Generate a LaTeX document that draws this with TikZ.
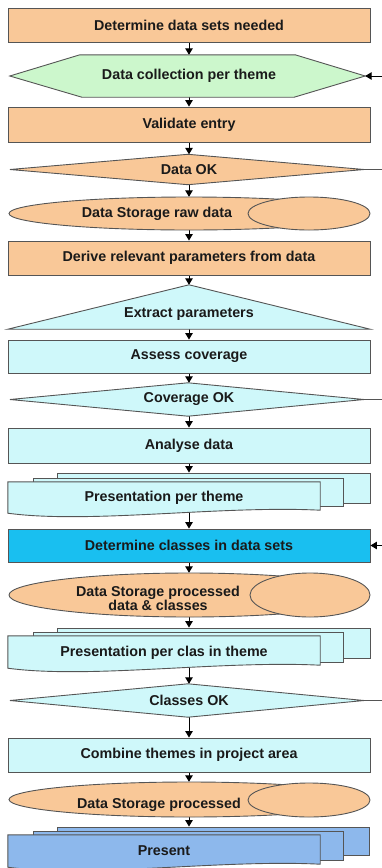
\documentclass[tikz,border=0pt]{standalone}
\usepackage{fontspec}
\setmainfont{Liberation Sans}
\usetikzlibrary{shapes.geometric,arrows.meta,backgrounds}
\definecolor{orangeF}{HTML}{F9C898}
\definecolor{greenF}{HTML}{CCF7CC}
\definecolor{cyanL}{HTML}{CFF8FA}
\definecolor{cyanB}{HTML}{19BFF0}
\definecolor{blueP}{HTML}{8DB8EC}
\definecolor{edgec}{HTML}{555555}
\definecolor{txtc}{HTML}{1A1A1A}
\tikzset{
  shapeline/.style={draw=edgec, line width=0.9pt},
  lbl/.style={font=\bfseries\fontsize{14.3}{14.5}\selectfont, text=txtc, align=center, inner sep=0pt},
  box/.style={shapeline, rectangle, minimum width=362pt, inner sep=0pt, lbl},
  frame/.style={rectangle, draw=none, inner sep=0pt},
  arr/.style={line width=1pt, black, -{Triangle[width=7.5pt,length=6.5pt]}},
  plain/.style={line width=1pt, edgec}
}
\newcommand\mydoc[2]{%
  \draw[shapeline, fill=#2] (#1.north west) -- (#1.north east) -- (#1.south east)
    .. controls ([xshift=-100pt,yshift=5pt]#1.south east) and ([xshift=82pt,yshift=-14pt]#1.south west)
    .. ([yshift=-3pt]#1.south west) -- cycle;}
\begin{document}
\begin{tikzpicture}[x=1pt,y=-1pt]
\useasboundingbox (0,0) rectangle (382,868);

% 1
\node[box, fill=orangeF, minimum height=34pt] (r1) at (189,25) {Determine data sets needed};
% hexagon
\node[frame, minimum width=355pt, minimum height=42pt] (hex) at (187.5,76) {};
\draw[shapeline, fill=greenF] (hex.west) -- ([xshift=70pt]hex.north west) -- ([xshift=-70pt]hex.north east)
  -- (hex.east) -- ([xshift=-71pt]hex.south east) -- ([xshift=72pt]hex.south west) -- cycle;
\node[lbl] (hext) at (189,76) {Data collection per theme};
% validate
\node[box, fill=orangeF, minimum height=35pt] (r2) at (189,124.5) {Validate entry};
% diamond Data OK
\node[frame, minimum width=354pt, minimum height=30pt] (d1) at (187,169.5) {};
\draw[shapeline, fill=orangeF] (d1.west) -- ([xshift=1pt]d1.north) -- (d1.east) -- ([xshift=1pt]d1.south) -- cycle;
\node[lbl] (d1t) at (189,169.5) {Data OK};
% storage raw
\node[frame, minimum width=362pt, minimum height=33pt] (e1) at (189,213.5) {};
\draw[shapeline, fill=orangeF] (e1.center) ellipse [x radius=180pt, y radius=16.5pt];
\coordinate (e1i) at (309,213.5);
\draw[shapeline, fill=orangeF] (e1i) ellipse [x radius=61pt, y radius=16.5pt];
\node[lbl] (e1t) at (157,214) {Data Storage raw data};
% derive
\node[box, fill=orangeF, minimum height=34pt] (r3) at (189,258) {Derive relevant parameters from data};
% triangle
\node[frame, minimum width=362pt, minimum height=44pt] (tri) at (189,307) {};
\draw[shapeline, fill=cyanL] (tri.north) -- (tri.south east) -- (tri.south west) -- cycle;
\node[lbl] (trit) at (189,314) {Extract parameters};
% assess
\node[box, fill=cyanL, minimum height=33pt] (r4) at (189,356.5) {Assess coverage};
% diamond coverage
\node[frame, minimum width=354pt, minimum height=33pt] (d2) at (187,399.5) {};
\draw[shapeline, fill=cyanL] (d2.west) -- ([xshift=1pt]d2.north) -- (d2.east) -- ([xshift=1pt]d2.south) -- cycle;
\node[lbl] (d2t) at (189,399.5) {Coverage OK};
% analyse
\node[box, fill=cyanL, minimum height=35pt] (r5) at (189,445.5) {Analyse data};
% multidoc 1
\node[shapeline, fill=cyanL, rectangle, inner sep=0pt, minimum width=313pt, minimum height=30pt] (p1b) at (213.5,488) {};
\node[shapeline, fill=cyanL, rectangle, inner sep=0pt, minimum width=310pt, minimum height=28pt] (p1m) at (188,492) {};
\node[frame, minimum width=312pt, minimum height=28pt] (p1f) at (164,496) {};
\mydoc{p1f}{cyanL}
\node[lbl] (p1t) at (164,498) {Presentation per theme};
% determine classes
\node[box, fill=cyanB, minimum height=33pt] (r6) at (189,545.5) {Determine classes in data sets};
% storage processed
\node[frame, minimum width=362pt, minimum height=44pt] (e2) at (189,595) {};
\draw[shapeline, fill=orangeF] (e2.center) ellipse [x radius=180pt, y radius=22pt];
\coordinate (e2i) at (310,595);
\draw[shapeline, fill=orangeF] (e2i) ellipse [x radius=60pt, y radius=22pt];
\node[lbl] (e2t) at (158,598.5) {Data Storage processed\\data \& classes};
% multidoc 2
\node[shapeline, fill=cyanL, rectangle, inner sep=0pt, minimum width=313pt, minimum height=30pt] (p2b) at (213.5,643) {};
\node[shapeline, fill=cyanL, rectangle, inner sep=0pt, minimum width=310pt, minimum height=30pt] (p2m) at (188,647) {};
\node[frame, minimum width=312pt, minimum height=29pt] (p2f) at (164,650.5) {};
\mydoc{p2f}{cyanL}
\node[lbl] (p2t) at (164,653) {Presentation per clas in theme};
% diamond classes
\node[frame, minimum width=354pt, minimum height=33pt] (d3) at (187,700.5) {};
\draw[shapeline, fill=cyanL] (d3.west) -- ([xshift=1pt]d3.north) -- (d3.east) -- ([xshift=1pt]d3.south) -- cycle;
\node[lbl] (d3t) at (189,700.5) {Classes OK};
% combine
\node[box, fill=cyanL, minimum height=34pt] (r7) at (189,755) {Combine themes in project area};
% storage processed 2
\node[frame, minimum width=362pt, minimum height=35pt] (e3) at (189,799.5) {};
\draw[shapeline, fill=orangeF] (e3.center) ellipse [x radius=180pt, y radius=17.5pt];
\coordinate (e3i) at (309,800);
\draw[shapeline, fill=orangeF] (e3i) ellipse [x radius=61pt, y radius=17pt];
\node[lbl] (e3t) at (159,805) {Data Storage processed};
% multidoc 3
\node[shapeline, fill=blueP, rectangle, inner sep=0pt, minimum width=312pt, minimum height=28pt] (p3b) at (213,841) {};
\node[shapeline, fill=blueP, rectangle, inner sep=0pt, minimum width=310pt, minimum height=29pt] (p3m) at (188,845.5) {};
\node[frame, minimum width=312pt, minimum height=29pt] (p3f) at (164,849.5) {};
\mydoc{p3f}{blueP}
\node[lbl] (p3t) at (164,851) {Present};

% connectors
\begin{pgfonlayer}{background}
\draw[arr] (r1.south) -- (r1.south |- hex.north);
\draw[arr] (r2.north |- hex.south) -- (r2.north);
\draw[arr] (r2.south) -- (r2.south |- d1.north);
\draw[arr] (e1.north |- d1.south) -- (e1.north);
\draw[arr] (e1.south) -- (r3.north);
\draw[arr] (r3.south) -- (tri.north);
\draw[arr] (tri.south) -- (r4.north);
\draw[arr] (r4.south) -- (r4.south |- d2.north);
\draw[arr] (r5.north |- d2.south) -- (r5.north);
\draw[arr] (r5.south) -- (r5.south |- p1b.north);
\draw[arr] (r6.north |- p1f.south) -- (r6.north);
\draw[arr] (r6.south) -- (e2.north);
\draw[arr] (e2.south) -- (e2.south |- p2b.north);
\draw[arr] (r7.north |- p2f.south) -- (r7.north |- d3.north);
\draw[arr] (r7.north |- d3.south) -- (r7.north);
\draw[arr] (r7.south) -- (e3.north);
\draw[arr] (e3.south) -- (e3.south |- p3b.north);
\end{pgfonlayer}

\coordinate (in1) at (382,76);
\coordinate (in2) at (382,545.5);
\coordinate (o1) at (382,169.5);
\coordinate (o2) at (382,399.5);
\coordinate (o3) at (382,700.5);
\draw[arr] (in1) -- (hex.east);
\draw[arr] (in2) -- (r6.east);
\draw[plain] (d1.east) -- (o1);
\draw[plain] (d2.east) -- (o2);
\draw[plain] (d3.east) -- (o3);
\end{tikzpicture}
\end{document}
